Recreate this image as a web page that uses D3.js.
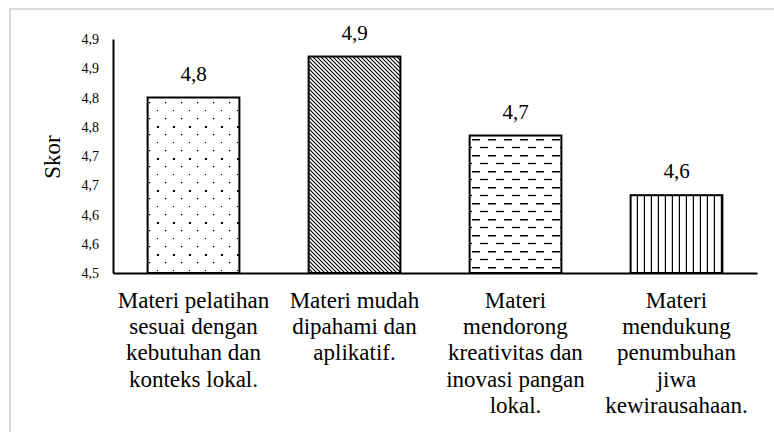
<!DOCTYPE html>
<html>
<head>
<meta charset="utf-8">
<script src="https://cdn.jsdelivr.net/npm/d3@7"></script>
</head>
<body style="margin:0">
<script>
// data
const categories = ["c1", "c2", "c3", "c4"];
const categoryLines = [
  ["Materi pelatihan", "sesuai dengan", "kebutuhan dan", "konteks lokal."],
  ["Materi mudah", "dipahami dan", "aplikatif."],
  ["Materi", "mendorong", "kreativitas dan", "inovasi pangan", "lokal."],
  ["Materi", "mendukung", "penumbuhan", "jiwa", "kewirausahaan."]
];
const scores = [4.80, 4.87, 4.735, 4.633];
const patterns = ["dots", "diag", "dash", "vert"];
const yTicks = [4.5, 4.55, 4.6, 4.65, 4.7, 4.75, 4.8, 4.85, 4.9];
const yTickLabels = ["4,5", "4,6", "4,6", "4,7", "4,7", "4,8", "4,8", "4,9", "4,9"];
const yTitle = "Skor";

const width = 774, height = 432;
const margin = { top: 39, right: 17, bottom: 159, left: 113 };
const serif = "Liberation Serif";

const idLocale = d3.formatLocale({ decimal: ",", thousands: ".", grouping: [3], currency: ["Rp", ""] });
const fmt = idLocale.format(".1f");

const svg = d3.select("body").append("svg")
  .attr("width", width)
  .attr("height", height)
  .attr("font-family", serif);

// outer frame (only top/left edges fall inside the picture)
svg.append("rect")
  .attr("x", 10).attr("y", 9)
  .attr("width", width + 20).attr("height", height + 20)
  .attr("fill", "none")
  .attr("stroke", "#d9d9d9")
  .attr("stroke-width", 2);

const defs = svg.append("defs");

// sparse dots
const pDots = defs.append("pattern").attr("id", "dots")
  .attr("patternUnits", "userSpaceOnUse")
  .attr("width", 16).attr("height", 32)
  .attr("x", 149).attr("y", 102);
[[0, 0, 1.3], [8, 8, 1.1], [0, 16, 1.3], [8, 24, 2.0]].forEach(([cx, cy, r]) => {
  pDots.append("rect").attr("x", cx).attr("y", cy)
    .attr("width", r).attr("height", r).attr("fill", "#000");
});

// dense downward diagonal
const pDiag = defs.append("pattern").attr("id", "diag")
  .attr("patternUnits", "userSpaceOnUse")
  .attr("width", 4).attr("height", 4);
pDiag.append("path").attr("d", "M-1,-1L5,5M-1,3L1,5M3,-1L5,1")
  .attr("stroke", "#000").attr("stroke-width", 1.1);

// dashed horizontal
const pDash = defs.append("pattern").attr("id", "dash")
  .attr("patternUnits", "userSpaceOnUse")
  .attr("width", 16).attr("height", 16)
  .attr("x", 0).attr("y", 139);
pDash.append("path").attr("d", "M8,0.5H16").attr("stroke", "#000").attr("stroke-width", 2);
pDash.append("path").attr("d", "M0,8.5H8").attr("stroke", "#000").attr("stroke-width", 1.3);

// vertical lines
const pVert = defs.append("pattern").attr("id", "vert")
  .attr("patternUnits", "userSpaceOnUse")
  .attr("width", 7).attr("height", 10)
  .attr("x", 631);
pVert.append("path").attr("d", "M6.5,0V10").attr("stroke", "#000").attr("stroke-width", 1.4);

const x = d3.scaleBand()
  .domain(categories)
  .range([margin.left, width - margin.right])
  .paddingInner(0.43)
  .paddingOuter(0.215);

const y = d3.scaleLinear()
  .domain([4.5, 4.9])
  .range([height - margin.bottom, margin.top]);

// bars
svg.append("g").selectAll("rect")
  .data(scores)
  .join("rect")
  .attr("x", (d, i) => x(categories[i]))
  .attr("y", d => y(d))
  .attr("width", x.bandwidth())
  .attr("height", d => y(4.5) - y(d))
  .attr("fill", (d, i) => "url(#" + patterns[i] + ")")
  .attr("stroke", "#000")
  .attr("stroke-width", 2);

// axis lines
const yAxis = svg.append("g")
  .attr("transform", "translate(" + margin.left + ",0)")
  .call(d3.axisLeft(y).tickValues([]).tickSizeOuter(0));
yAxis.select(".domain").attr("stroke", "#000").attr("stroke-width", 2);

const xAxis = svg.append("g")
  .attr("transform", "translate(0," + y(4.5) + ")")
  .call(d3.axisBottom(x).tickValues([]).tickSizeOuter(0));
xAxis.select(".domain").attr("stroke", "#000").attr("stroke-width", 2);

// y tick labels
svg.selectAll(".ylab")
  .data(yTicks)
  .join("text")
  .attr("class", "ylab")
  .attr("x", margin.left - 14)
  .attr("y", d => y(d) + 5)
  .attr("text-anchor", "end")
  .attr("font-size", 14)
  .text((d, i) => yTickLabels[i]);

// value labels
svg.selectAll(".vlab")
  .data(scores)
  .join("text")
  .attr("class", "vlab")
  .attr("x", (d, i) => x(categories[i]) + x.bandwidth() / 2)
  .attr("y", d => y(d) - 17)
  .attr("text-anchor", "middle")
  .attr("font-size", 21)
  .text(d => fmt(d));

// category labels (wrapped lines)
categoryLines.forEach((lines, i) => {
  svg.selectAll(".cat" + i)
    .data(lines)
    .join("text")
    .attr("class", "cat" + i)
    .attr("x", x(categories[i]) + x.bandwidth() / 2)
    .attr("y", (d, j) => 308 + j * 26.2)
    .attr("text-anchor", "middle")
    .attr("font-size", 23)
    .text(d => d);
});

// y title
svg.append("text")
  .attr("transform", "translate(60," + ((y(4.5) + y(4.9)) / 2 + 1) + ") rotate(-90)")
  .attr("text-anchor", "middle")
  .attr("font-size", 23)
  .text(yTitle);
</script>
</body>
</html>
